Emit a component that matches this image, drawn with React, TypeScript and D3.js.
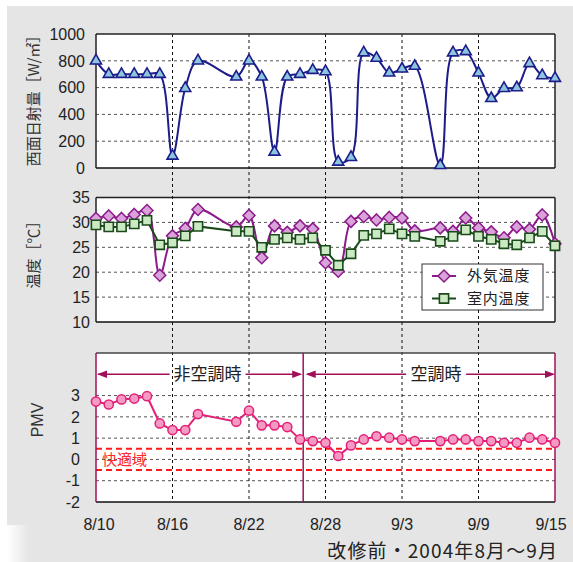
import React from 'react';
import * as d3 from 'd3';

// 測定日 (8/19, 8/20, 9/5 は欠測)
const dates = [
  '8/10', '8/11', '8/12', '8/13', '8/14', '8/15', '8/16', '8/17', '8/18',
  '8/21', '8/22', '8/23', '8/24', '8/25', '8/26', '8/27', '8/28', '8/29', '8/30', '8/31',
  '9/1', '9/2', '9/3', '9/4',
  '9/6', '9/7', '9/8', '9/9', '9/10', '9/11', '9/12', '9/13', '9/14', '9/15',
];
const solar = [
  800, 700, 700, 700, 700, 700, 90, 595, 800,
  680, 800, 680, 120, 680, 700, 730, 720, 45, 80, 860,
  820, 710, 740, 760,
  20, 860, 870, 710, 520, 595, 600, 780, 690, 670,
];
const outdoor = [
  30.8, 31.3, 30.8, 31.6, 32.4, 19.4, 27.3, 28.8, 32.6,
  29.1, 31.4, 22.9, 29.3, 28.0, 29.3, 28.7, 21.9, 20.2, 30.2, 31.2,
  30.5, 31.0, 30.9, 28.3,
  28.9, 28.2, 30.9, 28.9, 28.1, 26.9, 29.1, 28.6, 31.5, 25.7,
];
const indoor = [
  29.5, 29.1, 29.1, 29.7, 30.4, 25.5, 25.9, 27.3, 29.2,
  28.2, 28.2, 25.0, 26.6, 26.9, 26.6, 26.9, 24.4, 21.4, 23.7, 27.4,
  27.7, 28.7, 27.7, 27.2,
  26.2, 27.2, 28.5, 27.2, 26.6, 25.7, 25.5, 26.9, 28.2, 25.3,
];
const pmv = [
  2.72, 2.58, 2.82, 2.86, 2.97, 1.69, 1.38, 1.38, 2.13,
  1.77, 2.29, 1.6, 1.6, 1.52, 0.94, 0.86, 0.78, 0.16, 0.66, 0.94,
  1.09, 1.02, 0.94, 0.86,
  0.86, 0.94, 0.94, 0.86, 0.86, 0.78, 0.78, 1.02, 0.94, 0.78,
];

const xTicks = ['8/10', '8/16', '8/22', '8/28', '9/3', '9/9', '9/15'];
const solarTicks = [0, 200, 400, 600, 800, 1000];
const tempTicks = [10, 15, 20, 25, 30, 35];
const pmvTicks = [-2, -1, 0, 1, 2, 3];
const comfortBounds = [0.5, -0.5];
const legendNames = ['外気温度', '室内温度'];
const periodNames = ['非空調時', '空調時'];
const acStart = new Date(2004, 7, 26, 6);
const caption = '改修前・2004年8月～9月';

const parse = (s: string) => {
  const [m, d] = s.split('/').map(Number);
  return new Date(2004, m - 1, d);
};

const W = 573;
const H = 562;
const LATIN = '"Liberation Sans", Arial, "Noto Sans CJK JP", sans-serif';
const CJK = '"Noto Sans CJK JP", "Liberation Sans", sans-serif';
const NAVY = '#1c1c8a';
const PURPLE = '#8c1c8c';
const GREEN = '#1a4a1a';
const PINK = '#e41f78';
const MAGENTA = '#a0105a';

const x = d3.scaleTime().domain([parse('8/10'), parse('9/15')]).range([96, 555]);
const ySolar = d3.scaleLinear().domain([0, 1000]).range([168, 34]);
const yTemp = d3.scaleLinear().domain([10, 35]).range([322, 197.5]);
const yPmv = d3.scaleLinear().domain([-2, 5]).range([502, 353]);

const xs = dates.map((d) => x(parse(d)));

const smooth = (ys: number[]) =>
  d3.line<number>().x((_, i) => xs[i]).y((v) => v).curve(d3.curveCatmullRom.alpha(0.5))(ys) || '';
const straight = (ys: number[]) =>
  d3.line<number>().x((_, i) => xs[i]).y((v) => v)(ys) || '';

const triangle = d3.symbol(d3.symbolTriangle, 52)() || '';
const diamond = 'M0,-6L6,0L0,6L-6,0Z';
const square = 'M-4.6,-4.6H4.6V4.6H-4.6Z';

const Frame = ({ y0, y1, stroke = '#222', side = '#222' }: any) => (
  <g>
    <line x1={96} x2={555} y1={y0} y2={y0} stroke={stroke} strokeWidth={1.3} />
    <line x1={96} x2={555} y1={y1} y2={y1} stroke="#111" strokeWidth={1.3} />
    <line x1={96} x2={96} y1={y0} y2={y1} stroke={side} strokeWidth={1.5} />
    <line x1={555} x2={555} y1={y0} y2={y1} stroke={side} strokeWidth={1.5} />
  </g>
);

const HGrid = ({ ticks, scale }: any) => (
  <g>
    {ticks.map((t: number) => (
      <line key={t} x1={96} x2={555} y1={scale(t)} y2={scale(t)} stroke="#555" strokeWidth={1} strokeDasharray="3,3" />
    ))}
  </g>
);

const YLabels = ({ ticks, scale, right }: any) => (
  <g fontFamily={LATIN} fontSize={16} fill="#222" textAnchor="end">
    {ticks.map((t: number) => (
      <text key={t} x={right} y={scale(t)} dy="0.36em">{t}</text>
    ))}
  </g>
);

const arrowHead = (tip: number, dir: number, y: number) =>
  `M${tip},${y}L${tip - dir * 10},${y - 3.8}L${tip - dir * 10},${y + 3.8}Z`;

export default function App() {
  const sep = x(acStart);
  const arrowY = yPmv(4);
  const mid1 = (96 + sep) / 2 + 8;
  const mid2 = (sep + 555) / 2 + 7;
  const half1 = 38;
  const half2 = 30;

  return (
    <svg width={W} height={H} style={{ position: 'absolute', left: 0, top: 0, display: 'block' }}>
      <defs>
        <linearGradient id="corner" x1="0" x2="1" y1="0" y2="0">
          <stop offset="0" stopColor="#ffffff" />
          <stop offset="1" stopColor="#e5e5e5" />
        </linearGradient>
      </defs>
      <rect x={0} y={0} width={W} height={H} fill="#fff" />
      <rect x={7} y={6} width={W - 7} height={H - 6} fill="#e5e5e5" />
      <rect x={7} y={525} width={22} height={H - 525} fill="url(#corner)" />

      {/* plot backgrounds */}
      <rect x={96} y={34} width={459} height={134} fill="#fff" />
      <rect x={96} y={197.5} width={459} height={124.5} fill="#fff" />
      <rect x={96} y={353} width={459} height={149} fill="#fff" />

      <HGrid ticks={[200, 400, 600, 800]} scale={ySolar} />
      <HGrid ticks={[15, 20, 25, 30]} scale={yTemp} />
      <HGrid ticks={[-1, 0, 1, 2, 3]} scale={yPmv} />

      {/* vertical date grid through all panels */}
      {xTicks.slice(1, -1).map((t) => (
        <line key={t} x1={x(parse(t))} x2={x(parse(t))} y1={34} y2={502} stroke="#111" strokeWidth={1} strokeDasharray="3,3" />
      ))}

      {/* comfort zone */}
      {comfortBounds.map((b) => (
        <line key={b} x1={96} x2={555} y1={yPmv(b)} y2={yPmv(b)} stroke="#ff1a1a" strokeWidth={2} strokeDasharray="6,4" />
      ))}
      <text x={102} y={yPmv(0)} dy="0.36em" fontFamily={CJK} fontSize={15} fill="#ff2a2a">快適域</text>

      <Frame y0={34} y1={168} />
      <Frame y0={197.5} y1={322} />
      <Frame y0={353} y1={502} stroke="#444" side={MAGENTA} />
      <line x1={sep} x2={sep} y1={353} y2={502} stroke={MAGENTA} strokeWidth={1.5} />

      {/* period arrows */}
      <g stroke={MAGENTA} strokeWidth={1.5} fill={MAGENTA}>
        <line x1={98} x2={mid1 - half1} y1={arrowY} y2={arrowY} />
        <line x1={mid1 + half1} x2={sep - 3} y1={arrowY} y2={arrowY} />
        <line x1={sep + 4} x2={mid2 - half2} y1={arrowY} y2={arrowY} />
        <line x1={mid2 + half2} x2={553} y1={arrowY} y2={arrowY} />
        <path d={arrowHead(97, -1, arrowY)} stroke="none" />
        <path d={arrowHead(sep - 1, 1, arrowY)} stroke="none" />
        <path d={arrowHead(sep + 2.5, -1, arrowY)} stroke="none" />
        <path d={arrowHead(555, 1, arrowY)} stroke="none" />
      </g>
      <g fontFamily={CJK} fontSize={17} fill="#222" textAnchor="middle">
        <text x={mid1} y={arrowY} dy="0.36em">{periodNames[0]}</text>
        <text x={mid2} y={arrowY} dy="0.36em">{periodNames[1]}</text>
      </g>

      {/* solar radiation */}
      <path d={smooth(solar.map(ySolar))} fill="none" stroke={NAVY} strokeWidth={2} />
      {solar.map((v, i) => (
        <path key={i} d={triangle} transform={`translate(${xs[i]},${ySolar(v)})`} fill="#8cc6de" stroke={NAVY} strokeWidth={1.6} />
      ))}

      {/* temperatures */}
      <path d={smooth(outdoor.map(yTemp))} fill="none" stroke={PURPLE} strokeWidth={2} />
      {outdoor.map((v, i) => (
        <path key={i} d={diamond} transform={`translate(${xs[i]},${yTemp(v)})`} fill="#d9a2d9" stroke={PURPLE} strokeWidth={1.5} />
      ))}
      <path d={straight(indoor.map(yTemp))} fill="none" stroke={GREEN} strokeWidth={2} />
      {indoor.map((v, i) => (
        <path key={i} d={square} transform={`translate(${xs[i]},${yTemp(v)})`} fill="#cbeac3" stroke={GREEN} strokeWidth={1.6} />
      ))}

      {/* PMV */}
      <path d={straight(pmv.map(yPmv))} fill="none" stroke={PINK} strokeWidth={2} />
      {pmv.map((v, i) => (
        <circle key={i} cx={xs[i]} cy={yPmv(v)} r={4.6} fill="#f59ac2" stroke={PINK} strokeWidth={1.5} />
      ))}

      {/* legend */}
      <rect x={422} y={264} width={121} height={46} fill="#fff" stroke="#333" strokeWidth={1} />
      <line x1={432} x2={456} y1={276} y2={276} stroke={PURPLE} strokeWidth={2} />
      <path d={diamond} transform="translate(444,276)" fill="#d9a2d9" stroke={PURPLE} strokeWidth={1.5} />
      <line x1={432} x2={456} y1={298.5} y2={298.5} stroke={GREEN} strokeWidth={2} />
      <path d={square} transform="translate(444,298.5)" fill="#cbeac3" stroke={GREEN} strokeWidth={1.6} />
      <g fontFamily={CJK} fontSize={15} fill="#222" letterSpacing={0.8}>
        <text x={467} y={276} dy="0.36em">{legendNames[0]}</text>
        <text x={467} y={298.5} dy="0.36em">{legendNames[1]}</text>
      </g>

      <YLabels ticks={solarTicks} scale={ySolar} right={85} />
      <YLabels ticks={tempTicks} scale={yTemp} right={90} />
      <YLabels ticks={pmvTicks} scale={yPmv} right={80} />

      <g fontFamily={LATIN} fontSize={16} fill="#222" textAnchor="middle">
        {xTicks.map((t, i) => (
          <text key={t} x={x(parse(t)) + (i === 0 ? 3 : i === xTicks.length - 1 ? -4 : 0)} y={524} dy="0.36em">{t}</text>
        ))}
      </g>

      {/* axis titles */}
      <g fontFamily={CJK} fontSize={15} fill="#333" textAnchor="middle">
        <text transform="translate(34,97) rotate(-90)" dy="0.36em">西面日射量［W/㎡］</text>
        <text transform="translate(34,251) rotate(-90)" dy="0.36em">温度［℃］</text>
      </g>
      <text transform="translate(37,420) rotate(-90)" dy="0.36em" fontFamily={LATIN} fontSize={16} fill="#333" textAnchor="middle">PMV</text>

      <text x={558} y={551} dy="0.36em" fontFamily={CJK} fontSize={19} letterSpacing={1.1} fill="#222" textAnchor="end">{caption}</text>
    </svg>
  );
}
